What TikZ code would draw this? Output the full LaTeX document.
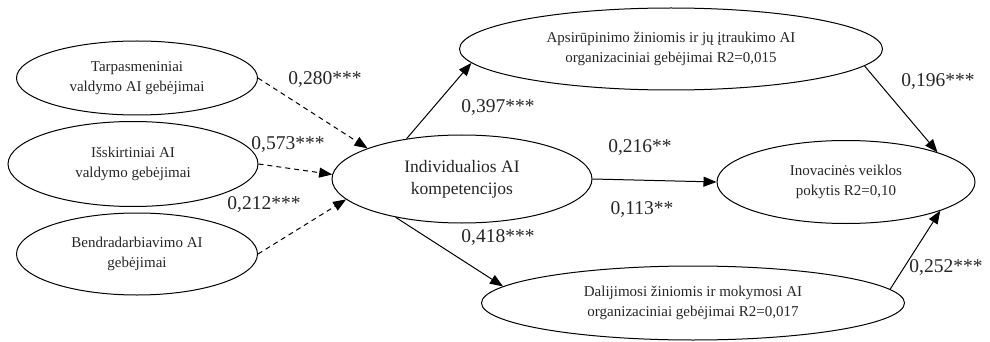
\documentclass[tikz,border=0pt]{standalone}
\usepackage{fontspec}
\setmainfont{Liberation Serif}
\usetikzlibrary{shapes.geometric,arrows.meta}
\begin{document}
\begin{tikzpicture}[x=1pt,y=-1pt,
  ell/.style={draw, ellipse, line width=1pt, inner sep=0pt, align=center, text=black!85, font=\fontsize{15}{20}\selectfont},
  coef/.style={font=\fontsize{19.5}{22}\selectfont, inner sep=0pt, text=black!85},
  arr/.style={line width=1pt, -{Triangle[length=13pt,width=10pt]}},
  darr/.style={arr, dash pattern=on 5pt off 4pt}]
\useasboundingbox (0,0) rectangle (990,342);
\node[ell, minimum width=241pt, minimum height=74pt] (e1) at (137,78) {Tarpasmeniniai\\valdymo AI gebėjimai};
\node[ell, minimum width=250pt, minimum height=85pt] (e2) at (133,164) {Išskirtiniai AI\\valdymo gebėjimai};
\node[ell, minimum width=241pt, minimum height=82pt] (e3) at (137,254) {Bendradarbiavimo AI\\gebėjimai};
\node[ell, minimum width=260pt, minimum height=88pt, font=\fontsize{17.5}{22}\selectfont] (c) at (462,179) {Individualios AI\\kompetencijos};
\node[ell, minimum width=423pt, minimum height=82pt] (t) at (671,49) {Apsirūpinimo žiniomis ir jų įtraukimo AI\\organizaciniai gebėjimai R2=0,015};
\node[ell, minimum width=258pt, minimum height=83pt] (r) at (846,182) {Inovacinės veiklos\\pokytis R2=0,10};
\node[ell, minimum width=423pt, minimum height=74pt] (b) at (693,303) {Dalijimosi žiniomis ir mokymosi AI\\organizaciniai gebėjimai R2=0,017};

\draw[darr] (e1.east) -- (c.162);
\draw[darr] (e2.east) -- (c.178);
\draw[darr] (e3.east) -- (c.190);
\draw[arr] (c.144) -- (t.184);
\draw[arr] (c.east) -- (r.west);
\draw[arr] (c.210) -- (b.175);
\draw[arr] (t.355) -- (r.18);
\draw[arr] (b.4) -- (r.343);

\node[coef] (l1) at (325,80) {0,280***};
\node[coef] (l2) at (288,145) {0,573***};
\node[coef] (l3) at (264,205) {0,212***};
\node[coef] (l4) at (498,108) {0,397***};
\node[coef] (l5) at (640,148) {0,216**};
\node[coef] (l6) at (642,210) {0,113**};
\node[coef] (l7) at (498,238) {0,418***};
\node[coef] (l8) at (938,82) {0,196***};
\node[coef] (l9) at (946,268) {0,252***};
\end{tikzpicture}
\end{document}
